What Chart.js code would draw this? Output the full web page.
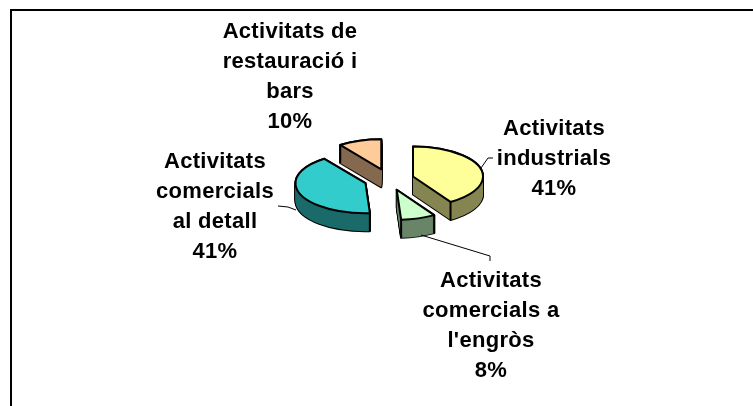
<!DOCTYPE html>
<html>
<head>
<meta charset="utf-8">
<style>html,body{margin:0;padding:0;background:#fff}canvas{display:block}</style>
<script src="https://cdn.jsdelivr.net/npm/chart.js@4/dist/chart.umd.js"></script>
</head>
<body>
<div style="width:753px;height:406px"><canvas id="c" width="753" height="406"></canvas></div>
<script>
const categories = ["Activitats industrials", "Activitats comercials a l'engròs", "Activitats comercials al detall", "Activitats de restauració i bars"];
const values = [41, 8, 41, 10];
const percentLabels = ["41%", "8%", "41%", "10%"];
const labelLines = [["Activitats", "industrials"], ["Activitats", "comercials a", "l'engròs"], ["Activitats", "comercials", "al detall"], ["Activitats de", "restauració i", "bars"]];
const faceColors = ["#FFFF99", "#CCFFCC", "#33CCCC", "#FFCC99"];
const wallColors = ["#858552", "#688568", "#1A6A6A", "#85694F"];

const SQUASH = 0.43, DEPTH = 18, RADIUS = 70, EXPLODE = 25;
const labelAnchors = [[554, 129], [491, 281], [215, 162], [290, 32]];
const LINE_H = 30;
const leaders = [[[481, 168], [488, 158], [493, 158]], [[421, 235], [490, 256], [490, 261]], [[278, 206], [288, 207], [296, 210]]];

let midY = 0;
function sector(ctx, el, d) {
  const cx = el.x;
  const cy = midY + (el.y - midY) * SQUASH + d;
  const r = el.outerRadius;
  ctx.beginPath();
  ctx.moveTo(cx, cy);
  ctx.ellipse(cx, cy, r, r * SQUASH, 0, el.startAngle, el.endAngle);
  ctx.closePath();
  return {cx, cy, r};
}

const pie3d = {
  id: 'pie3d',
  afterDatasetsUpdate(chart) {
    const arcs = chart.getDatasetMeta(0).data;
    midY = (chart.chartArea.top + chart.chartArea.bottom) / 2;
    arcs.forEach(el => {
      const mid = (el.startAngle + el.endAngle) / 2;
      el.x += Math.cos(mid) * EXPLODE;
      el.y += Math.sin(mid) * EXPLODE;
    });
  },
  beforeDatasetsDraw(chart) {
    const ctx = chart.ctx, arcs = chart.getDatasetMeta(0).data;
    ctx.save();
    ctx.strokeStyle = '#000'; ctx.lineWidth = 2; ctx.lineCap = 'butt';
    ctx.beginPath(); ctx.moveTo(11, 406); ctx.lineTo(11, 10); ctx.lineTo(753, 10); ctx.stroke();
    ctx.lineJoin = 'round';
    arcs.forEach((el, i) => {
      for (let d = 0; d <= DEPTH; d++) { sector(ctx, el, d); ctx.stroke(); }
      ctx.fillStyle = wallColors[i];
      for (let d = 0; d <= DEPTH; d++) { sector(ctx, el, d); ctx.fill(); }
      const {cx, cy, r} = sector(ctx, el, 0);
      ctx.beginPath();
      [el.startAngle, el.endAngle].forEach(a => {
        const x = cx + Math.cos(a) * r, y = cy + Math.sin(a) * r * SQUASH;
        ctx.moveTo(x, y); ctx.lineTo(x, y + DEPTH);
      });
      ctx.stroke();
    });
    ctx.restore();
    ctx.save();
    ctx.translate(0, midY);
    ctx.scale(1, SQUASH);
    ctx.translate(0, -midY);
  },
  afterDatasetsDraw(chart) {
    const ctx = chart.ctx, arcs = chart.getDatasetMeta(0).data;
    ctx.restore();
    ctx.save();
    ctx.strokeStyle = '#000'; ctx.lineWidth = 2; ctx.lineJoin = 'round';
    arcs.forEach(el => { sector(ctx, el, 0); ctx.stroke(); });
    ctx.lineWidth = 1;
    leaders.forEach(pts => {
      ctx.beginPath();
      pts.forEach((p, i) => i ? ctx.lineTo(p[0], p[1]) : ctx.moveTo(p[0], p[1]));
      ctx.stroke();
    });
    ctx.fillStyle = '#000';
    ctx.font = 'bold 22px "Liberation Sans", Arial, sans-serif';
    ctx.textAlign = 'center'; ctx.textBaseline = 'middle';
    ctx.letterSpacing = '0.3px';
    labelLines.forEach((lines, i) => {
      const [x, y] = labelAnchors[i];
      lines.concat(percentLabels[i]).forEach((t, j) => ctx.fillText(t, x, y + j * LINE_H));
    });
    ctx.restore();
  }
};

new Chart(document.getElementById('c'), {
  type: 'pie',
  data: {
    labels: categories,
    datasets: [{
      data: values,
      backgroundColor: faceColors,
      borderWidth: 0,
      radius: RADIUS,
      clip: false
    }]
  },
  options: {
    responsive: false,
    animation: false,
    radius: RADIUS,
    layout: {padding: {left: 25, right: 0, top: 0, bottom: 47}},
    plugins: {legend: {display: false}, tooltip: {enabled: false}}
  },
  plugins: [pie3d]
});
</script>
</body>
</html>
